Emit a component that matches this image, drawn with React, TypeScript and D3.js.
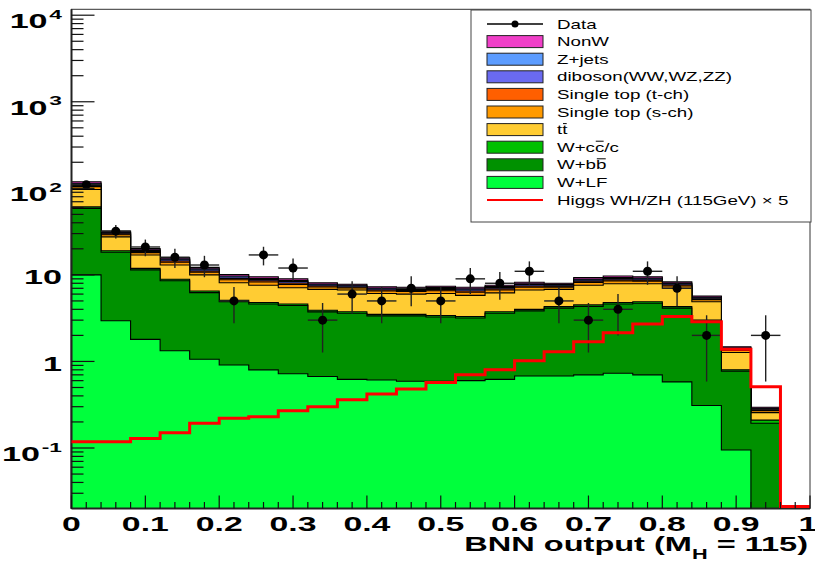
import React, { useEffect, useRef } from "react";
import * as d3 from "d3";

// BNN output bins (lower edges, width 0.04)
const binLow = [
  0, 0.04, 0.08, 0.12, 0.16, 0.2, 0.24, 0.28, 0.32, 0.36, 0.4, 0.44, 0.48,
  0.52, 0.56, 0.6, 0.64, 0.68, 0.72, 0.76, 0.8, 0.84, 0.88, 0.92, 0.96,
];
const binW = 0.04;

// observed events
const dataCounts = [110, 32, 21, 16, 13, 5, 17, 12, 3, 6, 5, 7, 5, 9, 8, 11, 5, 3, 4, 11, 7, 2, 0, 2, 0];

// backgrounds, bottom of the stack first
const wLF = [10, 2.95, 1.8, 1.33, 1.06, 0.91, 0.8, 0.72, 0.67, 0.62, 0.61, 0.59, 0.59, 0.6, 0.62, 0.68, 0.68, 0.7, 0.73, 0.7, 0.58, 0.31, 0.095, 0.004, 0];
const wBB = [48.6, 15.3, 9.62, 7.21, 5.18, 3.99, 3.81, 3.7, 3.07, 2.98, 2.75, 2.77, 2.67, 2.57, 2.98, 3.16, 3.45, 3.62, 3.88, 4.0, 3.55, 2.57, 0.675, 0.189, 0];
const wCC = [2.4, 0.75, 0.48, 0.36, 0.26, 0.2, 0.19, 0.18, 0.16, 0.15, 0.14, 0.14, 0.14, 0.13, 0.15, 0.16, 0.17, 0.18, 0.19, 0.2, 0.17, 0.12, 0.03, 0.017, 0];
const ttbar = [36, 8.5, 5.1, 4.1, 3.5, 3.0, 2.8, 2.5, 2.9, 2.95, 2.6, 2.5, 2.7, 2.5, 2.45, 2.7, 2.5, 3.1, 3.1, 3.0, 2.7, 1.9, 0.47, 0.046, 0];
const stopS = [7.7, 1.6, 1.1, 1.0, 0.77, 0.7, 0.66, 0.66, 0.45, 0.38, 0.42, 0.42, 0.45, 0.49, 0.49, 0.52, 0.42, 0.6, 0.63, 0.56, 0.45, 0.28, 0.075, 0.014, 0];
const stopT = [3.3, 0.68, 0.48, 0.44, 0.33, 0.3, 0.29, 0.29, 0.2, 0.17, 0.18, 0.18, 0.2, 0.21, 0.21, 0.23, 0.18, 0.26, 0.27, 0.24, 0.2, 0.12, 0.03, 0.006, 0];
const diboson = [3.7, 0.77, 0.54, 0.49, 0.37, 0.34, 0.32, 0.32, 0.22, 0.19, 0.2, 0.2, 0.22, 0.24, 0.24, 0.26, 0.2, 0.29, 0.31, 0.27, 0.22, 0.14, 0.036, 0.007, 0];
const zjets = [2.9, 0.59, 0.42, 0.38, 0.29, 0.26, 0.25, 0.25, 0.17, 0.14, 0.16, 0.16, 0.17, 0.18, 0.18, 0.2, 0.16, 0.22, 0.23, 0.21, 0.17, 0.1, 0.027, 0.005, 0];
const nonW = [4.4, 0.9, 0.64, 0.58, 0.44, 0.4, 0.38, 0.38, 0.26, 0.22, 0.24, 0.24, 0.26, 0.28, 0.28, 0.3, 0.24, 0.34, 0.36, 0.32, 0.26, 0.16, 0.042, 0.008, 0];

// signal x5
const higgs = [0.118, 0.118, 0.129, 0.15, 0.193, 0.22, 0.23, 0.27, 0.3, 0.36, 0.42, 0.48, 0.57, 0.7, 0.8, 1.02, 1.29, 1.69, 2.15, 2.7, 3.3, 2.87, 1.38, 0.51, 0];

const layers = [
  { name: "W+LF", values: wLF, color: "#00ff3c" },
  { name: "W+bb", values: wBB, color: "#009100" },
  { name: "W+cc", values: wCC, color: "#00c000" },
  { name: "tt", values: ttbar, color: "#ffcc33" },
  { name: "Single top (s-ch)", values: stopS, color: "#ff9a00" },
  { name: "Single top (t-ch)", values: stopT, color: "#ff5f00" },
  { name: "diboson(WW,WZ,ZZ)", values: diboson, color: "#6a6af0" },
  { name: "Z+jets", values: zjets, color: "#5c9cff" },
  { name: "NonW", values: nonW, color: "#f03fc8" },
];

// legend rows, top to bottom; bar = index of the letter that gets an overline
const legendRows = [
  { label: "Data", kind: "data" },
  { label: "NonW", kind: "box", color: "#f03fc8" },
  { label: "Z+jets", kind: "box", color: "#5c9cff" },
  { label: "diboson(WW,WZ,ZZ)", kind: "box", color: "#6a6af0" },
  { label: "Single top (t-ch)", kind: "box", color: "#ff5f00" },
  { label: "Single top (s-ch)", kind: "box", color: "#ff9a00" },
  { label: "tt", kind: "box", color: "#ffcc33", bar: 1 },
  { label: "W+cc/c", kind: "box", color: "#00c000", bar: 3 },
  { label: "W+bb", kind: "box", color: "#009100", bar: 3 },
  { label: "W+LF", kind: "box", color: "#00ff3c" },
  { label: "Higgs WH/ZH (115GeV) \u00d7 5", kind: "line" },
];

const FONT = "'Liberation Sans', Arial, Helvetica, sans-serif";

const App = () => {
  const ref = useRef<SVGSVGElement>(null);

  useEffect(() => {
    const svg = d3.select(ref.current);
    svg.selectAll("*").remove();

    const x = d3.scaleLinear().domain([0, 1]).range([71.5, 810]);
    const y = d3.scaleLog().domain([0.02, 11700]).range([508.5, 9.3]);
    const yMin = 0.02;
    const bottom = y(yMin);
    const yv = (v: number) => (v <= yMin ? bottom : y(v));

    const toPts = (vals: number[]) => {
      const pts = vals.map((v, i) => ({ x: binLow[i], v }));
      pts.push({ x: 1, v: vals[vals.length - 1] });
      return pts;
    };

    const area = d3
      .area<{ x: number; v: number }>()
      .curve(d3.curveStepAfter)
      .x((d) => x(d.x))
      .y0(bottom)
      .y1((d) => yv(d.v));

    // cumulative stack
    let run = binLow.map(() => 0);
    const cums = layers.map((l) => {
      run = run.map((c, i) => c + l.values[i]);
      return run;
    });

    // draw from the top of the stack down so lower layers sit on top
    for (let k = layers.length - 1; k >= 0; k--) {
      svg
        .append("path")
        .attr("d", area(toPts(cums[k])))
        .attr("fill", layers[k].color)
        .attr("stroke", "#000")
        .attr("stroke-width", 1.1);
    }

    // data points with sqrt(N) errors
    const pts = svg.append("g");
    dataCounts.forEach((n, i) => {
      if (n <= 0) return;
      const cx = x(binLow[i] + binW / 2);
      const e = Math.sqrt(n);
      pts
        .append("line")
        .attr("x1", x(binLow[i]))
        .attr("x2", x(binLow[i] + binW))
        .attr("y1", y(n))
        .attr("y2", y(n))
        .attr("stroke", "#222")
        .attr("stroke-width", 1.4);
      pts
        .append("line")
        .attr("x1", cx)
        .attr("x2", cx)
        .attr("y1", yv(n - e))
        .attr("y2", y(n + e))
        .attr("stroke", "#222")
        .attr("stroke-width", 1.4);
      pts.append("circle").attr("cx", cx).attr("cy", y(n)).attr("r", 4.5).attr("fill", "#000");
    });

    // frame
    svg
      .append("rect")
      .attr("x", 71.5)
      .attr("y", 9.3)
      .attr("width", 810 - 71.5)
      .attr("height", bottom - 9.3)
      .attr("fill", "none")
      .attr("stroke", "#333")
      .attr("stroke-width", 1);
    svg.append("line").attr("x1", 71.5).attr("x2", 71.5).attr("y1", 9.3).attr("y2", bottom).attr("stroke", "#222").attr("stroke-width", 2);
    svg.append("line").attr("x1", 71.5).attr("x2", 810).attr("y1", bottom).attr("y2", bottom).attr("stroke", "#222").attr("stroke-width", 2);

    // higgs line, empty bins sit just above the axis line
    const line = d3
      .line<{ x: number; v: number }>()
      .curve(d3.curveStepAfter)
      .x((d) => x(d.x))
      .y((d) => (d.v <= yMin ? bottom - 2 : y(d.v)));
    svg
      .append("path")
      .attr("d", line(toPts(higgs)))
      .attr("fill", "none")
      .attr("stroke", "#ff0000")
      .attr("stroke-width", 3);

    // y ticks
    const yt = svg.append("g");
    y.ticks().forEach((t) => {
      const lg = Math.log10(t);
      const major = Math.abs(lg - Math.round(lg)) < 1e-9;
      if (t <= yMin * 1.0001) return;
      yt.append("line")
        .attr("x1", 71.5)
        .attr("x2", 71.5 + (major ? 23 : 12))
        .attr("y1", y(t))
        .attr("y2", y(t))
        .attr("stroke", "#111")
        .attr("stroke-width", 1.2);
      if (!major) return;
      const e = Math.round(lg);
      const g = yt
        .append("g")
        .attr("transform", `translate(62,${y(t)}) scale(1.75,1)`)
        .attr("font-family", FONT)
        .attr("font-weight", "bold")
        .attr("fill", "#000");
      if (e === 0 || e === 1) {
        g.append("text").attr("text-anchor", "end").attr("y", 9.5).attr("font-size", 19.5).text(e === 0 ? "1" : "10");
      } else {
        const sup = g.append("text").attr("text-anchor", "end").attr("y", 3.5).attr("font-size", 13).text(String(e));
        const sw = (sup.node() as SVGTextElement).getComputedTextLength();
        g.append("text").attr("text-anchor", "end").attr("x", -sw - 1).attr("y", 13).attr("font-size", 19.5).text("10");
      }
    });

    // x ticks
    const xt = svg.append("g");
    d3.range(0, 1.0001, 0.02).forEach((t) => {
      const major = Math.abs(t * 10 - Math.round(t * 10)) < 1e-6;
      xt.append("line")
        .attr("x1", x(t))
        .attr("x2", x(t))
        .attr("y1", bottom)
        .attr("y2", bottom - (major ? 13 : 6.5))
        .attr("stroke", "#111")
        .attr("stroke-width", 1.2);
    });
    x.ticks(10).forEach((t) => {
      xt.append("g")
        .attr("transform", `translate(${t === 1 ? x(t) - 2 : x(t)},531) scale(1.65,1)`)
        .append("text")
        .attr("text-anchor", "middle")
        .attr("font-family", FONT)
        .attr("font-weight", "bold")
        .attr("font-size", 20.5)
        .text(String(+t.toFixed(1)));
    });

    // axis title
    const tt = svg
      .append("g")
      .attr("transform", "translate(808,551) scale(1.55,1)")
      .append("text")
      .attr("text-anchor", "end")
      .attr("font-family", FONT)
      .attr("font-weight", "bold")
      .attr("font-size", 21);
    tt.append("tspan").text("BNN output (M");
    tt.append("tspan").attr("font-size", 14).attr("dy", 8).text("H");
    tt.append("tspan").attr("dy", -8).text(" = 115)");

    // legend
    const lg = svg.append("g");
    lg.append("rect")
      .attr("x", 471)
      .attr("y", 10)
      .attr("width", 340)
      .attr("height", 212)
      .attr("fill", "#fff")
      .attr("stroke", "#444")
      .attr("stroke-width", 1);
    legendRows.forEach((r: any, i) => {
      const cy = 24 + i * 17.6;
      if (r.kind === "box") {
        lg.append("rect")
          .attr("x", 487)
          .attr("y", cy - 6)
          .attr("width", 56)
          .attr("height", 12)
          .attr("fill", r.color)
          .attr("stroke", "#222")
          .attr("stroke-width", 1);
      } else if (r.kind === "data") {
        lg.append("line").attr("x1", 487).attr("x2", 543).attr("y1", cy).attr("y2", cy).attr("stroke", "#000").attr("stroke-width", 1.3);
        lg.append("circle").attr("cx", 515).attr("cy", cy).attr("r", 3.5).attr("fill", "#000");
      } else {
        lg.append("line").attr("x1", 487).attr("x2", 543).attr("y1", cy).attr("y2", cy).attr("stroke", "#ff0000").attr("stroke-width", 2.2);
      }
      const g = lg.append("g").attr("transform", `translate(557,${cy + 4.5}) scale(1.5,1)`);
      const txt = g
        .append("text")
        .attr("font-family", FONT)
        .attr("font-size", 12.5)
        .attr("fill", "#000")
        .text(r.label);
      if (r.bar !== undefined) {
        const node = txt.node() as SVGTextElement;
        const a = node.getSubStringLength(0, r.bar);
        const b = a + node.getSubStringLength(r.bar, 1);
        g.append("line")
          .attr("x1", a + 0.5)
          .attr("x2", b - 0.5)
          .attr("y1", -10.5)
          .attr("y2", -10.5)
          .attr("stroke", "#000")
          .attr("stroke-width", 1);
      }
    });
  }, []);

  return (
    <div style={{ position: "absolute", left: 0, top: 0 }}>
      <svg ref={ref} width={815} height={561} style={{ display: "block", background: "#fff" }} />
    </div>
  );
};

export default App;
